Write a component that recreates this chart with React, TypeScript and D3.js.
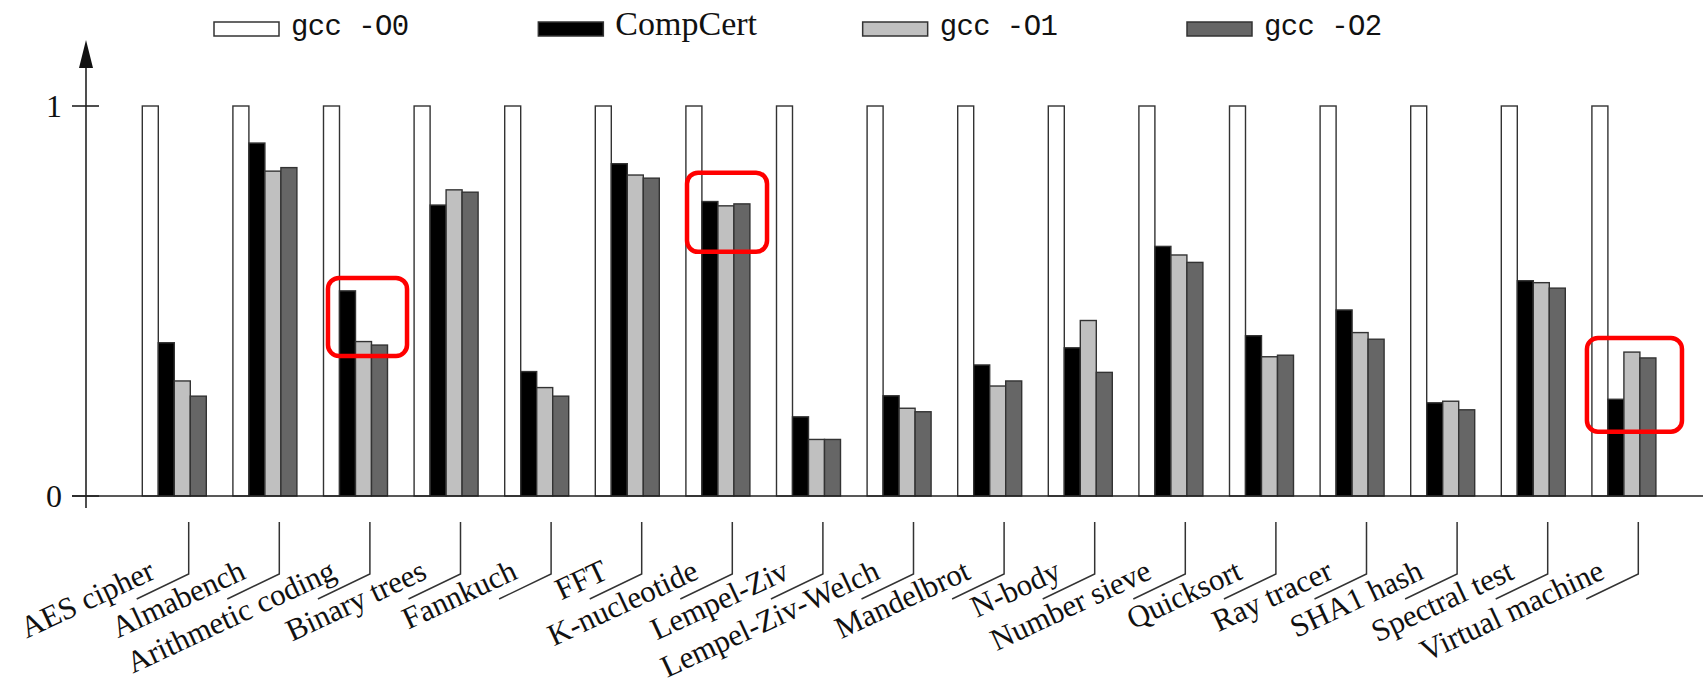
import React from "react";
import * as d3 from "d3";

const categories = [
  "AES cipher", "Almabench", "Arithmetic coding", "Binary trees", "Fannkuch", "FFT",
  "K-nucleotide", "Lempel-Ziv", "Lempel-Ziv-Welch", "Mandelbrot", "N-body",
  "Number sieve", "Quicksort", "Ray tracer", "SHA1 hash", "Spectral test", "Virtual machine",
];
const seriesNames = ["gcc -O0", "CompCert", "gcc -O1", "gcc -O2"];
const gccO0 = [1, 1, 1, 1, 1, 1, 1, 1, 1, 1, 1, 1, 1, 1, 1, 1, 1];
const compCert = [0.393, 0.905, 0.526, 0.746, 0.319, 0.852, 0.755, 0.203, 0.257, 0.336, 0.380, 0.640, 0.411, 0.477, 0.239, 0.552, 0.248];
const gccO1 = [0.295, 0.833, 0.396, 0.785, 0.278, 0.823, 0.744, 0.145, 0.225, 0.282, 0.450, 0.618, 0.357, 0.419, 0.243, 0.547, 0.369];
const gccO2 = [0.256, 0.842, 0.387, 0.779, 0.256, 0.815, 0.749, 0.145, 0.216, 0.295, 0.317, 0.599, 0.361, 0.402, 0.221, 0.533, 0.354];
const yTicks = [0, 1];
const seriesFill = ["#ffffff", "#000000", "#c0c0c0", "#666666"];
const seriesMono = [true, false, true, true];

// highlighted groups (red rounded boxes), in slot units and data units
const highlights = [
  { category: "Arithmetic coding", from: 0.28, to: 5.22, top: 0.559, bottom: 0.359 },
  { category: "K-nucleotide", from: 0.07, to: 5.07, top: 0.829, bottom: 0.626 },
  { category: "Virtual machine", from: -0.31, to: 5.63, top: 0.405, bottom: 0.165 },
];

const W = 1703;
const H = 683;

export default function App() {
  const series = [gccO0, compCert, gccO1, gccO2];
  const x = d3.scaleBand<string>().domain(categories).range([142.3, 1655.9]).paddingInner(0.2936).paddingOuter(0).align(0);
  const xs = d3.scaleBand<string>().domain(seriesNames).range([0, x.bandwidth()]);
  const y = d3.scaleLinear().domain([0, 1]).range([496, 106]);
  const slot = xs.bandwidth();
  const axisX = 86;
  const ang = 25;
  const legendX = d3.scaleLinear().domain([0, 3]).range([214, 1187]);

  return (
    <svg width={W} height={H} style={{ position: "absolute", left: 0, top: 0, background: "#fff" }}>
      {/* legend */}
      {seriesNames.map((s, i) => {
        const lx = legendX(i);
        return (
          <g key={s}>
            <rect x={lx} y={22} width={65} height={14} fill={seriesFill[i]} stroke="#333" strokeWidth={1.5} />
            <text
              x={lx + 77}
              y={35}
              fontFamily={seriesMono[i] ? "Liberation Mono, monospace" : "Liberation Serif, serif"}
              fontSize={seriesMono[i] ? 29 : 34}
              letterSpacing={seriesMono[i] ? -0.6 : 0}
              fill="#111"
              xmlSpace="preserve"
            >
              {s}
            </text>
          </g>
        );
      })}

      {/* bars */}
      {categories.map((c, ci) => (
        <g key={c} transform={`translate(${x(c)},0)`}>
          {series.map((vals, si) => (
            <rect
              key={si}
              x={xs(seriesNames[si])}
              y={y(vals[ci])}
              width={slot}
              height={y(0) - y(vals[ci])}
              fill={seriesFill[si]}
              stroke="#333"
              strokeWidth={1.4}
            />
          ))}
        </g>
      ))}

      {/* axes */}
      <line x1={72} x2={W} y1={y(0)} y2={y(0)} stroke="#222" strokeWidth={1.6} />
      <line x1={axisX} x2={axisX} y1={508} y2={66} stroke="#222" strokeWidth={1.6} />
      <path d={`M${axisX},40 L${axisX - 7},68 L${axisX + 7},68 Z`} fill="#111" />
      {yTicks.map((t) => (
        <g key={t}>
          <line x1={72} x2={99} y1={y(t)} y2={y(t)} stroke="#222" strokeWidth={1.6} />
          <text x={62} y={y(t) + 11} textAnchor="end" fontFamily="Liberation Serif, serif" fontSize={32} fill="#111">
            {t}
          </text>
        </g>
      ))}

      {/* category labels with leader lines */}
      {categories.map((c) => {
        const lx = (x(c) as number) + slot * 2.9;
        const top = 522;
        const bot = 574;
        const bx = lx - 52;
        const by = bot + 25;
        const tx = lx - 32;
        const ty = 578;
        return (
          <g key={c}>
            <path d={`M${lx},${top} L${lx},${bot} L${bx},${by}`} fill="none" stroke="#333" strokeWidth={1.5} />
            <text
              x={tx}
              y={ty}
              textAnchor="end"
              transform={`rotate(${-ang},${tx},${ty})`}
              fontFamily="Liberation Serif, serif"
              fontSize={31}
              fill="#111"
            >
              {c}
            </text>
          </g>
        );
      })}

      {/* highlight boxes */}
      {highlights.map((h) => {
        const x0 = (x(h.category) as number) + h.from * slot;
        const x1 = (x(h.category) as number) + h.to * slot;
        return (
          <rect
            key={h.category}
            x={x0}
            y={y(h.top)}
            width={x1 - x0}
            height={y(h.bottom) - y(h.top)}
            rx={11}
            ry={11}
            fill="none"
            stroke="#ff0000"
            strokeWidth={4.5}
          />
        );
      })}
    </svg>
  );
}
